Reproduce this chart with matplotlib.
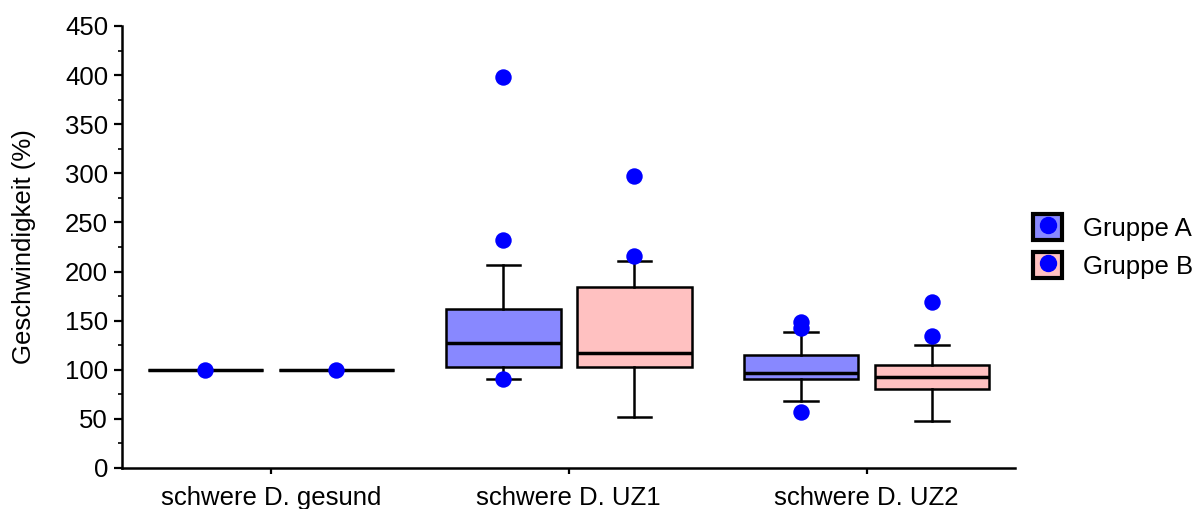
import matplotlib.pyplot as plt
from matplotlib.patches import Patch
from matplotlib.lines import Line2D
from matplotlib.legend_handler import HandlerTuple
from matplotlib.ticker import MultipleLocator

plt.rcParams['font.family'] = ['Liberation Sans', 'DejaVu Sans']

categories = ['schwere D. gesund', 'schwere D. UZ1', 'schwere D. UZ2']
groups = ['Gruppe A', 'Gruppe B']

# box statistics per category
a_whislo = [100, 91, 68.5]
a_q1 = [100, 103, 91]
a_med = [100, 127, 97]
a_q3 = [100, 162, 115]
a_whishi = [100, 207, 138]
a_points = [[100], [398.5, 232, 90.6], [149, 142.5, 57]]

b_whislo = [100, 52, 48]
b_q1 = [100, 103, 80.5]
b_med = [100, 117, 92.7]
b_q3 = [100, 184, 104.5]
b_whishi = [100, 211, 125]
b_points = [[100], [297, 216], [169, 134.5]]

colors = ['#8888ff', '#ffc1c1']
dot_color = '#0000ff'


def make_stats(lo, q1, med, q3, hi):
    return [dict(whislo=lo[i], q1=q1[i], med=med[i], q3=q3[i], whishi=hi[i], fliers=[])
            for i in range(len(lo))]


fig = plt.figure(figsize=(11.96, 5.09), dpi=100)
ax = fig.add_axes([0.102, 0.0806, 0.747, 0.8684])

offset = 0.22
width = 0.385
series = [
    (make_stats(a_whislo, a_q1, a_med, a_q3, a_whishi), a_points, -offset, colors[0]),
    (make_stats(b_whislo, b_q1, b_med, b_q3, b_whishi), b_points, offset, colors[1]),
]
for stats, points, off, col in series:
    pos = [i + off for i in range(len(categories))]
    ax.bxp(stats, positions=pos, widths=width, capwidths=0.111, patch_artist=True,
           showfliers=False,
           boxprops=dict(facecolor=col, edgecolor='black', linewidth=1.8),
           medianprops=dict(color='black', linewidth=2.5),
           whiskerprops=dict(color='black', linewidth=1.8),
           capprops=dict(color='black', linewidth=1.8))
    for p, vals in zip(pos, points):
        ax.scatter([p] * len(vals), vals, s=140, color=dot_color, zorder=5, linewidths=0)

fs = 18.5
ax.set_xlim(-0.5, 2.5)
ax.set_ylim(0, 450)
ax.set_xticks(range(len(categories)))
ax.set_xticklabels(categories)
ax.yaxis.set_major_locator(MultipleLocator(50))
ax.yaxis.set_minor_locator(MultipleLocator(25))
ax.tick_params(axis='y', which='major', length=6, width=1.6, labelsize=fs, pad=4)
ax.tick_params(axis='y', which='minor', length=3, width=1.2)
ax.tick_params(axis='x', length=4, width=1.6, labelsize=fs, pad=9)
ax.set_ylabel('Geschwindigkeit (%)', fontsize=fs, labelpad=21)
for s in ['top', 'right']:
    ax.spines[s].set_visible(False)
for s in ['left', 'bottom']:
    ax.spines[s].set_linewidth(1.8)

handles = [(Patch(facecolor=c, edgecolor='black', linewidth=3),
            Line2D([], [], marker='o', color=dot_color, linestyle='', markersize=11.5))
           for c in colors]
fig.legend(handles, groups, handler_map={tuple: HandlerTuple(ndivide=1, pad=0)},
           loc='center left', bbox_to_anchor=(0.8635, 0.516), frameon=False, fontsize=fs,
           handlelength=1.15, handleheight=1.15, handletextpad=0.8, labelspacing=0.45,
           borderpad=0, borderaxespad=0)

fig.savefig('out.png', dpi=100)
